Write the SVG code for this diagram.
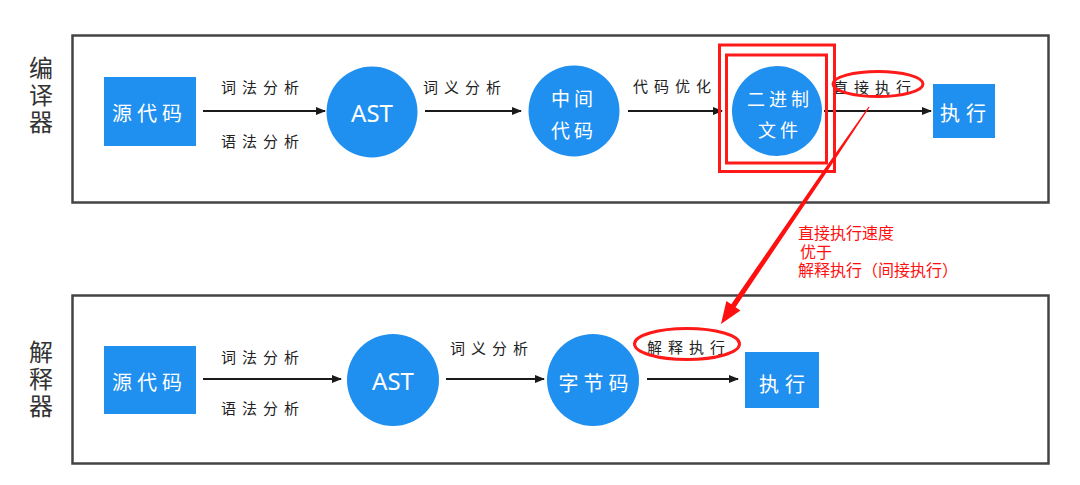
<svg xmlns="http://www.w3.org/2000/svg" width="1080" height="485" viewBox="0 0 1080 485">
<defs>
<marker id="ah" markerWidth="10" markerHeight="10" refX="9" refY="5" orient="auto" markerUnits="userSpaceOnUse">
<path d="M0,1 L10,5 L0,9 Z" fill="#1a1a1a"/>
</marker>
<style>
.frame{fill:#fff;stroke:#444;stroke-width:2.5}
.blue{fill:#1f8ff0}
.wt{fill:#fff;font-family:"Noto Sans CJK SC","Noto Sans",sans-serif;font-size:20px;dominant-baseline:central}
.ast{fill:#fff;font-family:"Noto Sans","DejaVu Sans",sans-serif;font-size:24px;dominant-baseline:central;text-anchor:middle}
.lbl{fill:#222;font-family:"Noto Sans CJK SC",sans-serif;font-size:15px;letter-spacing:6px;dominant-baseline:central}
.side{fill:#333;font-family:"Noto Sans CJK SC",sans-serif;font-size:24px;text-anchor:middle;writing-mode:vertical-rl;letter-spacing:3px}
.red{fill:#ff1010;font-family:"Liberation Sans","Noto Sans CJK SC",sans-serif;font-size:16px}
.conn{stroke:#1a1a1a;stroke-width:2;fill:none;marker-end:url(#ah)}
.rr{fill:none;stroke:#ff1a1a;stroke-width:3}
</style>
</defs>
<rect width="1080" height="485" fill="#fff"/>

<g id="frame-compiler">
<rect class="frame" x="72.5" y="35.5" width="976" height="167"/>
<text class="side" x="41" y="96">编译器</text>
</g>
<g id="frame-interpreter">
<rect class="frame" x="72.5" y="295.5" width="976" height="168"/>
<text class="side" x="41" y="380">解释器</text>
</g>

<g id="connectors">
<line class="conn" x1="203" y1="111" x2="325" y2="111"/>
<line class="conn" x1="425" y1="111" x2="521" y2="111"/>
<line class="conn" x1="628" y1="111" x2="722" y2="111"/>
<line class="conn" x1="824" y1="111" x2="931" y2="111"/>
<line class="conn" x1="203" y1="379" x2="341" y2="379"/>
<line class="conn" x1="446" y1="379" x2="544" y2="379"/>
<line class="conn" x1="647" y1="379" x2="738" y2="379"/>
<text class="lbl" x="221" y="86">词法分析</text>
<text class="lbl" x="221" y="140">语法分析</text>
<text class="lbl" x="423" y="86">词义分析</text>
<text class="lbl" x="633" y="85">代码优化</text>
<text class="lbl" x="833" y="86">直接执行</text>
<text class="lbl" x="221" y="356">词法分析</text>
<text class="lbl" x="221" y="407">语法分析</text>
<text class="lbl" x="450" y="347">词义分析</text>
<text class="lbl" x="647" y="346">解释执行</text>
</g>

<g id="c-src">
<rect class="blue" x="104" y="77" width="92" height="69"/>
<text class="wt" x="112" y="112" style="letter-spacing:5px">源代码</text>
</g>
<g id="c-ast">
<circle class="blue" cx="372" cy="112" r="45.5"/>
<text class="ast" x="372" y="112">AST</text>
</g>
<g id="c-ir">
<circle class="blue" cx="574" cy="111" r="45.5"/>
<text class="wt" x="574" y="97" text-anchor="middle" style="font-size:19px;letter-spacing:4px">中间</text>
<text class="wt" x="574" y="129" text-anchor="middle" style="font-size:19px;letter-spacing:4px">代码</text>
</g>
<g id="c-bin">
<circle class="blue" cx="777" cy="111" r="45"/>
<text class="wt" x="780" y="98" text-anchor="middle" style="font-size:18px;letter-spacing:4px">二进制</text>
<text class="wt" x="780" y="129" text-anchor="middle" style="font-size:18px;letter-spacing:4px">文件</text>
</g>
<g id="c-exec">
<rect class="blue" x="933" y="84" width="62" height="54"/>
<text class="wt" x="966" y="112" text-anchor="middle" style="letter-spacing:6px">执行</text>
</g>

<g id="i-src">
<rect class="blue" x="104" y="346" width="92" height="68"/>
<text class="wt" x="112" y="381" style="letter-spacing:5px">源代码</text>
</g>
<g id="i-ast">
<circle class="blue" cx="393" cy="380" r="46"/>
<text class="ast" x="393" y="380">AST</text>
</g>
<g id="i-bytecode">
<circle class="blue" cx="593" cy="380" r="46"/>
<text class="wt" x="596" y="382" text-anchor="middle" style="letter-spacing:5px">字节码</text>
</g>
<g id="i-exec">
<rect class="blue" x="745" y="352" width="74" height="56"/>
<text class="wt" x="785" y="383" text-anchor="middle" style="letter-spacing:6px">执行</text>
</g>

<g id="annotations">
<rect class="rr" x="719.5" y="45" width="115" height="126.5"/>
<rect class="rr" x="726.5" y="55" width="100" height="108"/>
<ellipse class="rr" cx="878" cy="84" rx="45" ry="12.5"/>
<ellipse class="rr" cx="687" cy="344" rx="52.5" ry="15.5"/>
<polygon fill="#ff1010" points="869.5,107.34 826.09,173.01 735.55,307.27 740.42,310.59 721,324 726.38,301.01 731.25,304.33 823.11,170.99 868.5,106.66"/>
<text class="red"><tspan x="798" y="239">直接执行速度</tspan><tspan x="800" y="258">优于</tspan><tspan x="798" y="276">解释执行（间接执行）</tspan></text>
</g>
</svg>
